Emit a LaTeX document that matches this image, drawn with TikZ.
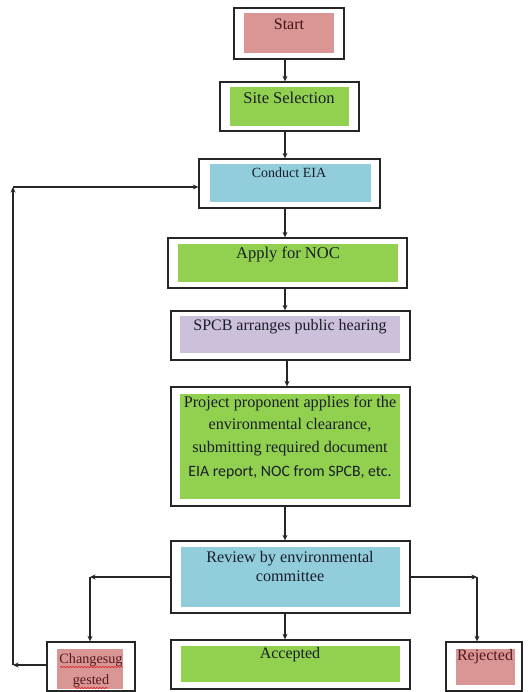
\documentclass[tikz,border=0pt]{standalone}
\usepackage{fontspec}
\setmainfont{Liberation Serif}
\newfontfamily\calib{Carlito}
\usetikzlibrary{arrows.meta,decorations.pathmorphing}
\definecolor{pinkc}{RGB}{217,150,148}
\definecolor{greenc}{RGB}{146,208,80}
\definecolor{bluec}{RGB}{146,205,220}
\definecolor{lavc}{RGB}{204,192,218}
\definecolor{txtc}{RGB}{25,30,40}
\definecolor{redtxt}{RGB}{85,25,30}
\definecolor{squig}{RGB}{220,30,30}
\tikzset{
  outer/.style={draw=black!85, line width=1.3pt, fill=white, rectangle, inner sep=0pt},
  txt/.style={text=txtc, font=\fontsize{16}{21}\selectfont, inner sep=0pt, align=center, anchor=center},
  arr/.style={draw=black!85, line width=1.3pt, -{Stealth[length=5.5pt,width=5pt]}},
  wavy/.style={draw=squig, line width=0.6pt, decorate, decoration={snake, amplitude=0.6pt, segment length=3pt}}
}
\begin{document}
\begin{tikzpicture}[x=1pt,y=-1pt]
\useasboundingbox (0,0) rectangle (528,692);
\fill[white] (0,0) rectangle (528,692);
\coordinate (ax) at (285,0);
\coordinate (ax2) at (287,0);

% outer boxes
\node[outer, minimum width=110pt, minimum height=51pt] (start) at (289,33.5) {};
\node[outer, minimum width=139pt, minimum height=49pt] (site) at (289.5,106.5) {};
\node[outer, minimum width=181pt, minimum height=49pt] (eia) at (289.5,183.5) {};
\node[outer, minimum width=239pt, minimum height=50pt] (apply) at (287.5,263) {};
\node[outer, minimum width=239pt, minimum height=49pt] (spcb) at (290.5,335.5) {};
\node[outer, minimum width=239pt, minimum height=119pt] (proj) at (290.5,446.5) {};
\node[outer, minimum width=239pt, minimum height=72pt] (review) at (290.5,577) {};
\node[outer, minimum width=239pt, minimum height=49pt] (acc) at (290.5,664.5) {};
\node[outer, minimum width=88pt, minimum height=49pt] (chg) at (91,666.5) {};
\node[outer, minimum width=76pt, minimum height=49pt] (rej) at (484,666.5) {};

% inner fills
\fill[pinkc] (244,13) rectangle (334,53);
\fill[greenc] (230,87) rectangle (349,126);
\fill[bluec] (210,164) rectangle (371,202);
\fill[greenc] (178,244) rectangle (398,282);
\fill[lavc] (180,316) rectangle (400,353);
\fill[greenc] (180,394) rectangle (400,499);
\fill[bluec] (181,547) rectangle (400,607);
\fill[greenc] (181,646) rectangle (400,682);
\fill[pinkc] (57,649) rectangle (123,689);
\fill[pinkc] (456,649) rectangle (515,685);

% texts
\node[txt, text=redtxt!80!black] (tstart) at (289,24) {Start};
\node[txt, font=\fontsize{16.5}{21}\selectfont] (tsite) at (289,98) {Site Selection};
\node[txt, font=\fontsize{14}{18}\selectfont] (teia) at (289,173) {Conduct EIA};
\node[txt, font=\fontsize{16.5}{21}\selectfont] (tapply) at (288,254) {Apply for NOC};
\node[txt] (tspcb) at (290,327) {SPCB arranges public hearing};
\node[txt, font=\fontsize{16.2}{22.5}\selectfont] (tproj) at (290,426) {Project proponent applies for the\\ environmental clearance,\\ submitting required document};
\node[txt, font=\calib\fontsize{15.8}{20}\selectfont] (tproj2) at (290,472) {EIA report, NOC from SPCB, etc.};
\node[txt, font=\fontsize{16.2}{19}\selectfont] (trev) at (290,566.5) {Review by environmental\\ committee};
\node[txt] (tacc) at (290,655) {Accepted};
\node[txt, font=\fontsize{14.2}{21}\selectfont, text=redtxt] (tchg) at (91,670.5) {Changesug\\ gested};
\node[txt, text=redtxt] (trej) at (485,657) {Rejected};

% spell-check squiggles
\draw[wavy] (60,667) -- (123,667);
\draw[wavy] (75,688) -- (108,688);

% main flow arrows
\draw[arr] (start.south -| ax) -- (site.north -| ax);
\draw[arr] (site.south -| ax) -- (eia.north -| ax);
\draw[arr] (eia.south -| ax) -- (apply.north -| ax);
\draw[arr] (apply.south -| ax) -- (spcb.north -| ax);
\draw[arr] (spcb.south -| ax2) -- (proj.north -| ax2);
\draw[arr] (proj.south -| ax) -- (review.north -| ax);
\draw[arr] (review.south -| ax) -- (acc.north -| ax);

% branches
\coordinate (rl) at (90,577);
\coordinate (rr) at (477,577);
\draw[arr] (review.west) -- (rl);
\draw[arr] (rl) -- (chg.north -| rl);
\draw[arr] (review.east) -- (rr);
\draw[arr] (rr) -- (rej.north -| rr);

% feedback loop
\coordinate (lb) at (13,665);
\coordinate (lt) at (13,187);
\draw[arr] (chg.west |- lb) -- (lb);
\draw[arr] (lb) -- (lt);
\draw[arr] (lt) -- (eia.west |- lt);
\end{tikzpicture}
\end{document}
